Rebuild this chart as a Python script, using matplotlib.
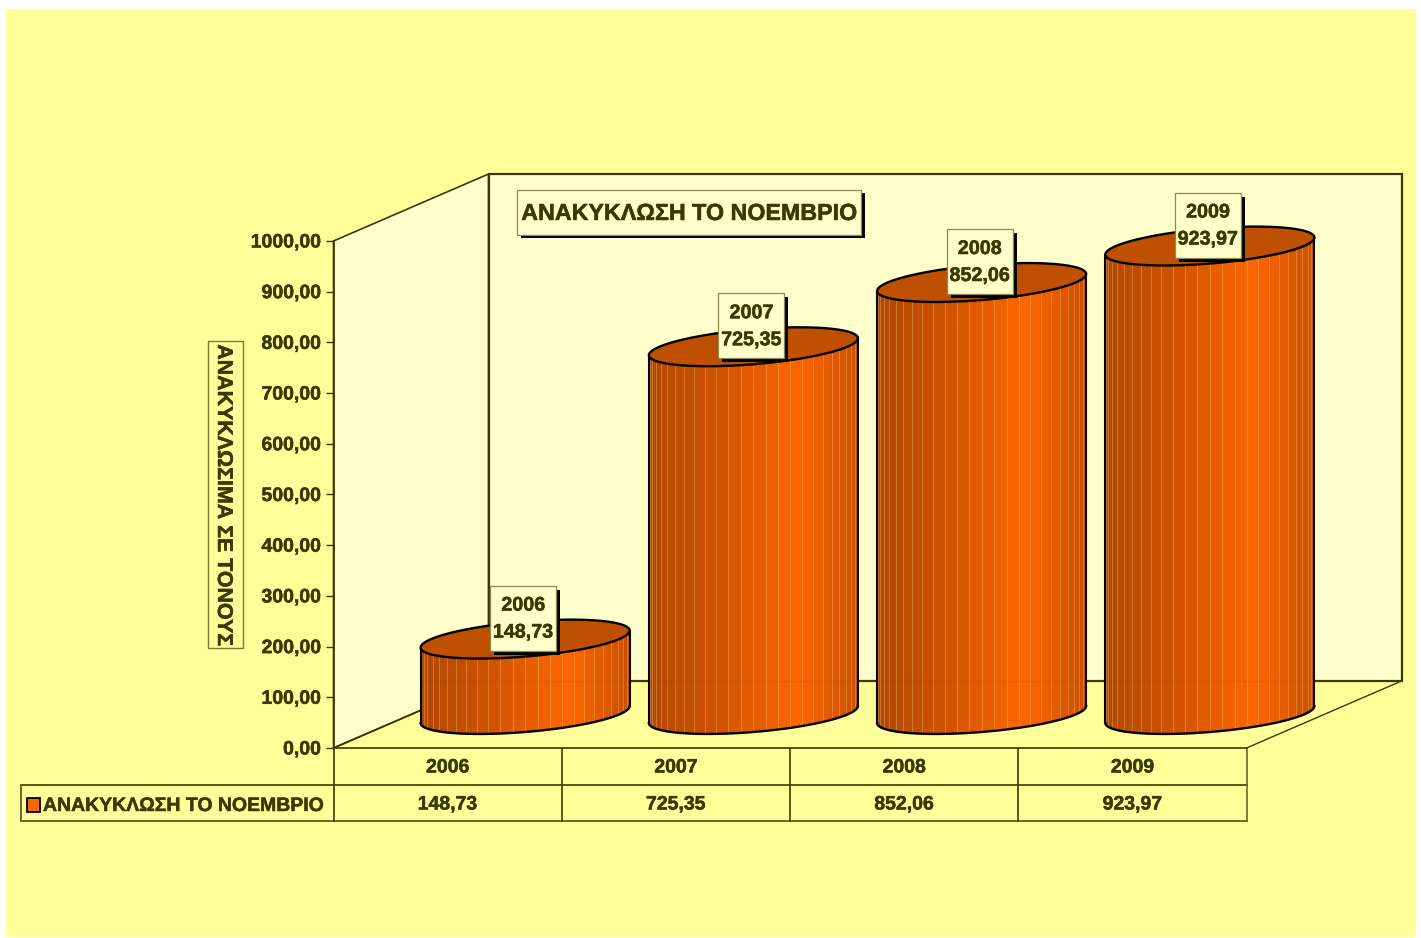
import matplotlib
matplotlib.use('Agg')
import matplotlib.pyplot as plt
import matplotlib.patheffects as pe
from matplotlib.patches import Rectangle, Polygon
from matplotlib.colors import LinearSegmentedColormap
from matplotlib.ticker import FuncFormatter
import numpy as np

plt.rcParams['font.family'] = ['Liberation Sans', 'DejaVu Sans']
plt.rcParams['font.weight'] = 'bold'

years = ['2006', '2007', '2008', '2009']
values = [148.73, 725.35, 852.06, 923.97]
value_labels = ['148,73', '725,35', '852,06', '923,97']
series_name = 'ΑΝΑΚΥΚΛΩΣΗ ΤΟ ΝΟΕΜΒΡΙΟ'
y_title = 'ΑΝΑΚΥΚΛΩΣΙΜΑ ΣΕ ΤΟΝΟΥΣ'
y_ticks = [0, 100, 200, 300, 400, 500, 600, 700, 800, 900, 1000]

W, H = 1421, 938
TEXT = '#3a3a00'
LINE = '#3a3a00'
BG = '#ffff99'
WALL = '#ffffcc'
ORANGE = LinearSegmentedColormap.from_list(
    'orange', [(0, '#b04800'), (0.3, '#cc5200'), (0.72, '#ff6600'), (1, '#c85000')])
HEAVY = [pe.withStroke(linewidth=0.35, foreground=TEXT)]

# plot box in pixels
X0, X1 = 333.5, 1246.5
Y0, Y1 = 748.0, 241.0
UX = (X1 - X0) / 4
UY = (Y0 - Y1) / 1000
DX = 155 / UX    # depth of the 3d box, in data units
DY = 67 / UY


def w(px):
    return px / UX


def h(px):
    return px / UY


fig = plt.figure(figsize=(W / 100, H / 100), dpi=100, facecolor='white')
fig.add_artist(Rectangle((6 / W, 1 - 937 / H), 1410 / W, 928 / H,
                         transform=fig.transFigure, facecolor=BG, edgecolor='none', zorder=-5))

ax = fig.add_axes([X0 / W, 1 - Y0 / H, (X1 - X0) / W, (Y0 - Y1) / H])
ax.patch.set_visible(False)
ax.set_xlim(0, 4)
ax.set_ylim(0, 1000)
for name in ['top', 'right', 'bottom']:
    ax.spines[name].set_visible(False)
ax.spines['left'].set_color(LINE)
ax.spines['left'].set_linewidth(1.2)
ax.set_xticks([])
ax.set_yticks(y_ticks)
ax.yaxis.set_major_formatter(FuncFormatter(lambda v, p: ('%.2f' % v).replace('.', ',')))
ax.tick_params(axis='y', length=8.5 * 0.72, width=1, color=LINE, labelcolor=TEXT,
               labelsize=14.0, pad=3)
for label in ax.get_yticklabels():
    label.set_path_effects(HEAVY)

# walls and floor
ax.add_patch(Polygon([(0, 0), (DX, DY), (DX, 1000 + DY), (0, 1000)], closed=True, clip_on=False,
                     facecolor=WALL, edgecolor=LINE, linewidth=1.2, zorder=1))
ax.add_patch(Polygon([(DX, DY), (4 + DX, DY), (4 + DX, 1000 + DY), (DX, 1000 + DY)], closed=True,
                     clip_on=False, facecolor=WALL, edgecolor=LINE, linewidth=1.6, zorder=1))
ax.plot([0, DX], [0, DY], color=LINE, lw=1.2, clip_on=False, zorder=1.5)
ax.plot([4, 4 + DX], [0, DY], color=LINE, lw=1.0, clip_on=False, zorder=1.5)

# cylinders
RX = w(104.5)
RY = h(17.5)
SHEAR = h(8.5)
t_front = np.linspace(np.pi, 2 * np.pi, 27)
t_arc = np.linspace(np.pi, 2 * np.pi, 91)
t_all = np.linspace(0, 2 * np.pi, 181)


def ring(cx, cy, t):
    return cx + RX * np.cos(t), cy + RY * np.sin(t) + SHEAR * np.cos(t)


for i, v in enumerate(values):
    cx = i + 0.5 + DX / 2
    base = DY / 2
    top = base + v
    bx, by = ring(cx, base, t_front)
    tx, ty = ring(cx, top, t_front)
    for k in range(len(t_front) - 1):
        f = (bx[k] + bx[k + 1] - 2 * (cx - RX)) / (4 * RX)
        ax.fill([bx[k], bx[k + 1], tx[k + 1], tx[k]], [by[k], by[k + 1], ty[k + 1], ty[k]],
                color=ORANGE(f), lw=0.9, clip_on=False, zorder=2)
    for k in range(1, len(t_front) - 1):
        ax.plot([bx[k], tx[k]], [by[k], ty[k]], color='#ffc98a', alpha=0.4,
                lw=0.6, clip_on=False, zorder=2.1)
    # back wall bottom edge shows faintly through the cylinder
    ax.plot([cx - RX, cx + RX], [DY, DY], color=LINE, alpha=0.08, lw=1.0, clip_on=False, zorder=2.2)
    ax.plot(*ring(cx, base, t_arc), color='black', lw=1.7, clip_on=False, zorder=3)
    ax.plot([bx[0], tx[0]], [by[0], ty[0]], color='black', lw=1.5, clip_on=False, zorder=3)
    ax.plot([bx[-1], tx[-1]], [by[-1], ty[-1]], color='black', lw=1.5, clip_on=False, zorder=3)
    ex, ey = ring(cx, top, t_all)
    ax.fill(ex, ey, facecolor='#bf5000', edgecolor='black', lw=1.7, clip_on=False, zorder=3)

    # value label box on top of the cylinder
    bw, bh = w(66), h(65)
    lx = cx - w(2)
    ly = top + h(21)
    ax.add_patch(Rectangle((lx - bw / 2 + w(4), ly - bh / 2 - h(4)), bw, bh, facecolor='black',
                           edgecolor='none', clip_on=False, zorder=4))
    ax.add_patch(Rectangle((lx - bw / 2, ly - bh / 2), bw, bh, facecolor=WALL, edgecolor='#8a8a50',
                           lw=0.9, clip_on=False, zorder=5))
    ax.text(lx, ly + h(13), years[i], color=TEXT, fontsize=14.2, ha='center', va='center', zorder=6,
            path_effects=HEAVY)
    ax.text(lx, ly - h(14), value_labels[i], color=TEXT, fontsize=14.2, ha='center', va='center',
            zorder=6, path_effects=HEAVY)

# data table under the plot
row1 = -h(37)
row2 = -h(72.5)
left = -w(312.5)
ax.plot([0, 4], [0, 0], color=LINE, lw=1.2, clip_on=False, zorder=3)
ax.plot([left, 4], [row1, row1], color=LINE, lw=1.2, clip_on=False)
ax.plot([left, 4], [row2, row2], color='#6a6a20', lw=1.4, clip_on=False)
ax.plot([left, left], [row1, row2], color='#6a6a20', lw=1.4, clip_on=False)
for i in range(5):
    ax.plot([i, i], [0, row2], color=LINE if i < 4 else '#6a6a20', lw=1.2, clip_on=False)
for i in range(4):
    ax.text(i + 0.5, h(-20), years[i], color=TEXT, fontsize=14, ha='center', va='center',
            path_effects=HEAVY)
    ax.text(i + 0.5, h(-57), value_labels[i], color=TEXT, fontsize=14, ha='center', va='center',
            path_effects=HEAVY)
ax.add_patch(Rectangle((-w(307), -h(64)), w(13), h(14), facecolor='#ff6600', edgecolor='black',
                       lw=1.3, clip_on=False))
ax.text(-w(290.5), -h(58.5), series_name, color=TEXT, fontsize=14, ha='left', va='center',
        path_effects=HEAVY)

# chart title box
tx0, ty0 = w(517 - X0), h(Y0 - 235)
tw, th = w(344), h(45)
ax.add_patch(Rectangle((tx0 + w(4), ty0 - h(3)), tw, th, facecolor='black', edgecolor='none',
                       clip_on=False, zorder=1.6))
ax.add_patch(Rectangle((tx0, ty0), tw, th, facecolor=WALL, edgecolor='#8a8a50', lw=0.9,
                       clip_on=False, zorder=1.7))
ax.text(tx0 + tw / 2, ty0 + th / 2 - h(1), series_name, color=TEXT, fontsize=16.75, ha='center',
        va='center', zorder=1.8, path_effects=HEAVY)

# y axis title box
ax.add_patch(Rectangle((w(208 - X0), h(Y0 - 648)), w(35), h(307), facecolor='none',
                       edgecolor='#7a7a30', lw=1.0, clip_on=False))
ax.text(w(223.5 - X0), h(Y0 - 495), y_title, color=TEXT, fontsize=15.4, rotation=270,
        ha='center', va='center', path_effects=HEAVY)

plt.savefig('out.png', dpi=100)
